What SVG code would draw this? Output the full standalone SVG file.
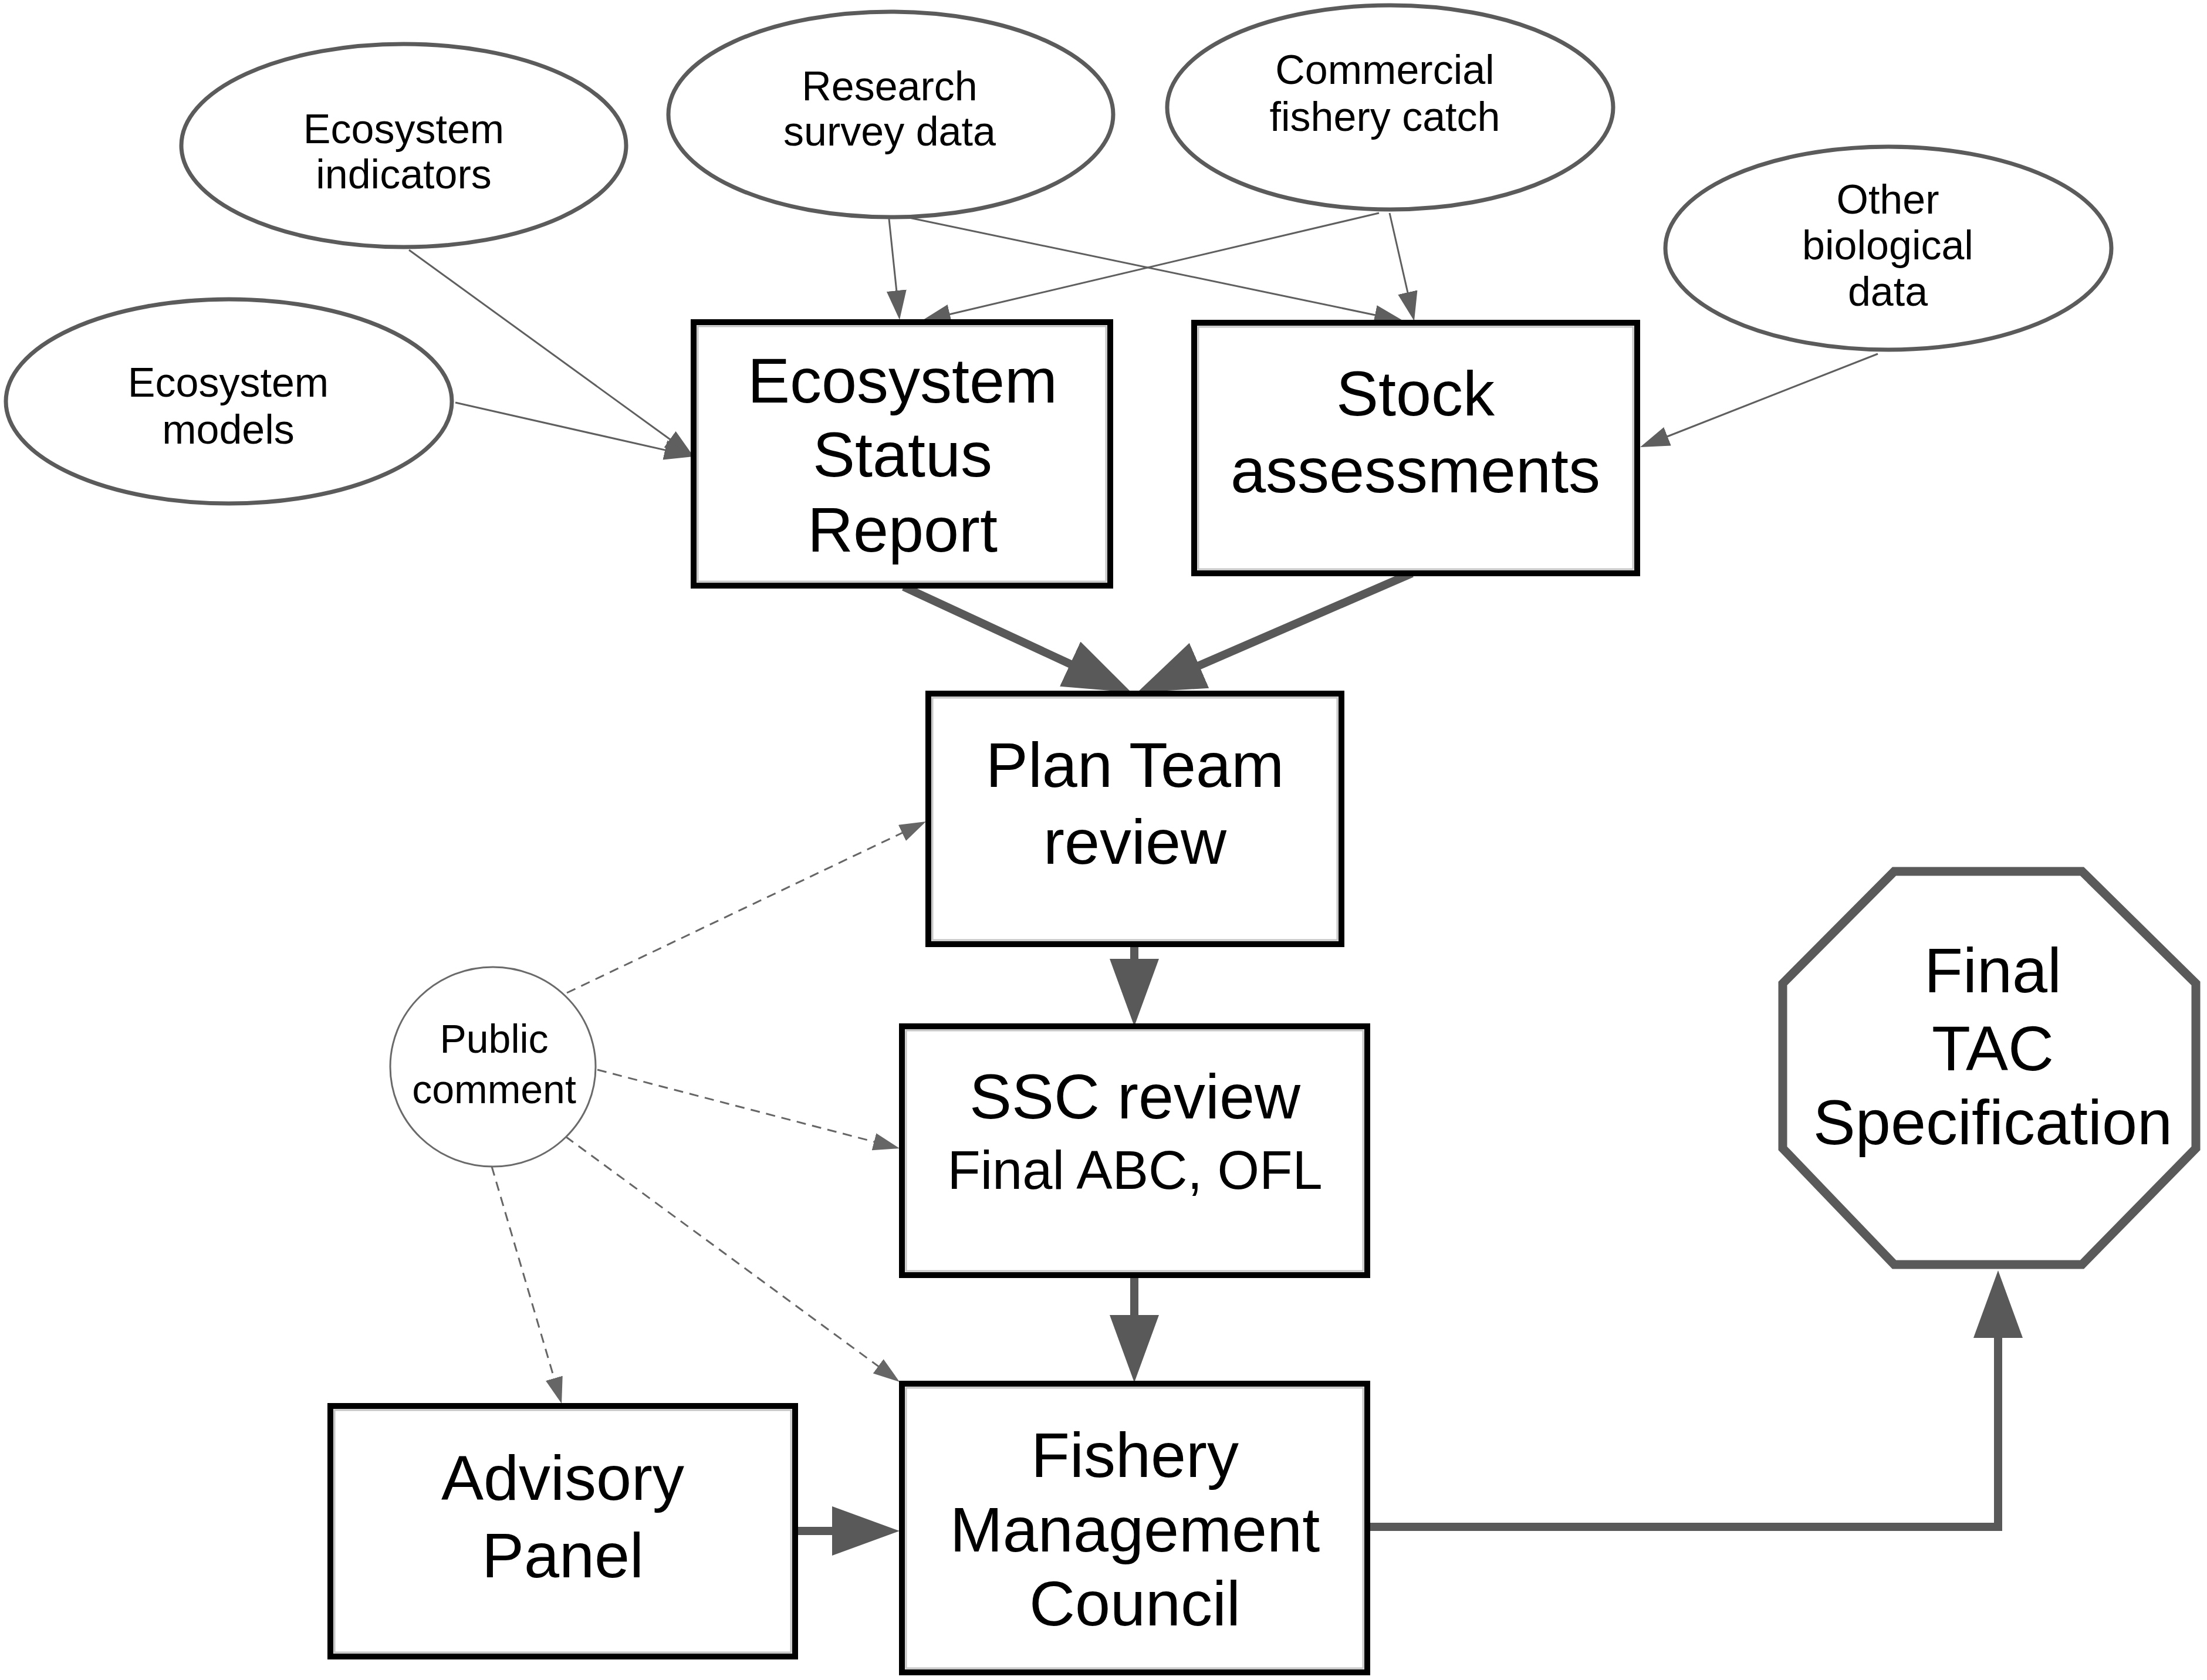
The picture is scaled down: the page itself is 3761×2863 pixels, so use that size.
<svg xmlns="http://www.w3.org/2000/svg" width="3761" height="2863" viewBox="0 0 3761 2863">
<style>
  text { font-family: "Liberation Sans", Arial, sans-serif; fill: #000; text-anchor: middle; }
  .small { font-size: 70px; }
  .big { font-size: 108px; }
  .mid { font-size: 92px; }
  .ell { fill: #fff; stroke: #5b5b5b; stroke-width: 7; }
  .pc { fill: #fff; stroke: #6a6a6a; stroke-width: 3; }
  .box { fill: #fff; stroke: #000; stroke-width: 10; }
  .boxin { fill: none; stroke: #c4c4c4; stroke-width: 3; }
  .oct { fill: #fff; stroke: #5a5a5a; stroke-width: 15; stroke-linejoin: miter; }
  .thin { fill: none; stroke: #5f5f5f; stroke-width: 3; marker-end: url(#aThin); }
  .thick { fill: none; stroke: #595959; stroke-width: 14; marker-end: url(#aThick); }
  .dash { fill: none; stroke: #666; stroke-width: 3; stroke-dasharray: 16 11; marker-end: url(#aDash); }
</style>
<defs>
  <marker id="aThin" markerUnits="userSpaceOnUse" markerWidth="52" markerHeight="36" refX="2" refY="17" orient="auto">
    <path d="M0,0 L50,17 L0,34 z" fill="#5f5f5f"/>
  </marker>
  <marker id="aThick" markerUnits="userSpaceOnUse" markerWidth="118" markerHeight="86" refX="2" refY="42" orient="auto">
    <path d="M0,0 L115,42 L0,84 z" fill="#595959"/>
  </marker>
  <marker id="aDash" markerUnits="userSpaceOnUse" markerWidth="48" markerHeight="32" refX="2" refY="15" orient="auto">
    <path d="M0,0 L45,15 L0,30 z" fill="#666"/>
  </marker>
</defs>
<rect width="3761" height="2863" fill="#fff"/>

<g id="connectors">
  <line class="thin" x1="697" y1="426" x2="1143.2" y2="749.8"/>
  <line class="thin" x1="776" y1="686" x2="1135.2" y2="767.4"/>
  <line class="thin" x1="1515" y1="373" x2="1528" y2="497.2"/>
  <line class="thin" x1="1535" y1="368" x2="2345" y2="537.2"/>
  <line class="thin" x1="2350" y1="363" x2="1616.7" y2="536"/>
  <line class="thin" x1="2368" y1="363" x2="2399.3" y2="500.2"/>
  <line class="thin" x1="3200" y1="603" x2="2839.7" y2="744.5"/>
  <line class="thick" x1="1540" y1="1000" x2="1825.5" y2="1132.4"/>
  <line class="thick" x1="2406" y1="977" x2="2041.7" y2="1135"/>
  <line class="thick" x1="1933" y1="1607" x2="1933" y2="1636"/>
  <line class="thick" x1="1933" y1="2173" x2="1933" y2="2243"/>
  <line class="thick" x1="1357" y1="2609" x2="1420" y2="2609"/>
  <path class="thick" d="M2330,2602 H3405 V2278"/>
  <line class="dash" x1="966" y1="1692" x2="1539.2" y2="1418.5"/>
  <line class="dash" x1="1018" y1="1823" x2="1491.4" y2="1946.2"/>
  <line class="dash" x1="964" y1="1937" x2="1498.3" y2="2329.5"/>
  <line class="dash" x1="838" y1="1988" x2="944.9" y2="2350.8"/>
</g>

<g id="node-ecosystem-indicators">
  <ellipse class="ell" cx="688" cy="248" rx="379" ry="173"/>
  <text class="small" x="688" y="244">Ecosystem</text>
  <text class="small" x="688" y="321">indicators</text>
</g>
<g id="node-research-survey">
  <ellipse class="ell" cx="1518" cy="195" rx="379" ry="175"/>
  <text class="small" x="1516" y="171">Research</text>
  <text class="small" x="1516" y="248">survey data</text>
</g>
<g id="node-commercial-catch">
  <ellipse class="ell" cx="2369" cy="183" rx="380" ry="174"/>
  <text class="small" x="2360" y="143">Commercial</text>
  <text class="small" x="2360" y="223">fishery catch</text>
</g>
<g id="node-other-biological">
  <ellipse class="ell" cx="3218" cy="423" rx="380" ry="173"/>
  <text class="small" x="3217" y="364">Other</text>
  <text class="small" x="3217" y="442">biological</text>
  <text class="small" x="3217" y="521">data</text>
</g>
<g id="node-ecosystem-models">
  <ellipse class="ell" cx="390" cy="684" rx="380" ry="174"/>
  <text class="small" x="389" y="676">Ecosystem</text>
  <text class="small" x="389" y="756">models</text>
</g>

<g id="node-esr">
  <rect class="box" x="1182" y="549" width="710" height="449"/>
  <rect class="boxin" x="1189" y="556" width="696" height="435"/>
  <text class="big" x="1538" y="686">Ecosystem</text>
  <text class="big" x="1538" y="812">Status</text>
  <text class="big" x="1538" y="940">Report</text>
</g>
<g id="node-stock-assessments">
  <rect class="box" x="2035" y="550" width="755" height="427"/>
  <rect class="boxin" x="2042" y="557" width="741" height="413"/>
  <text class="big" x="2412" y="708">Stock</text>
  <text class="big" x="2412" y="839">assessments</text>
</g>
<g id="node-plan-team">
  <rect class="box" x="1582" y="1182" width="704" height="427"/>
  <rect class="boxin" x="1589" y="1189" width="690" height="413"/>
  <text class="big" x="1934" y="1341">Plan Team</text>
  <text class="big" x="1934" y="1472">review</text>
</g>
<g id="node-ssc">
  <rect class="box" x="1537" y="1749" width="793" height="424"/>
  <rect class="boxin" x="1544" y="1756" width="779" height="410"/>
  <text class="big" x="1934" y="1906">SSC review</text>
  <text class="mid" x="1934" y="2026">Final ABC, OFL</text>
</g>
<g id="node-fmc">
  <rect class="box" x="1537" y="2358" width="793" height="492"/>
  <rect class="boxin" x="1544" y="2365" width="779" height="478"/>
  <text class="big" x="1934" y="2517">Fishery</text>
  <text class="big" x="1934" y="2644">Management</text>
  <text class="big" x="1934" y="2770">Council</text>
</g>
<g id="node-advisory-panel">
  <rect class="box" x="563" y="2396" width="792" height="427"/>
  <rect class="boxin" x="570" y="2403" width="778" height="413"/>
  <text class="big" x="959" y="2556">Advisory</text>
  <text class="big" x="959" y="2688">Panel</text>
</g>
<g id="node-public-comment">
  <ellipse class="pc" cx="840" cy="1818" rx="175" ry="170"/>
  <text class="small" x="842" y="1794" style="font-size:68px">Public</text>
  <text class="small" x="842" y="1880" style="font-size:68px">comment</text>
</g>
<g id="node-final-tac">
  <polygon class="oct" points="3228,1485 3548,1485 3742,1676 3742,1957 3548,2155 3228,2155 3038,1957 3038,1676"/>
  <text class="big" x="3396" y="1691">Final</text>
  <text class="big" x="3396" y="1824">TAC</text>
  <text class="big" x="3396" y="1950">Specification</text>
</g>
</svg>
